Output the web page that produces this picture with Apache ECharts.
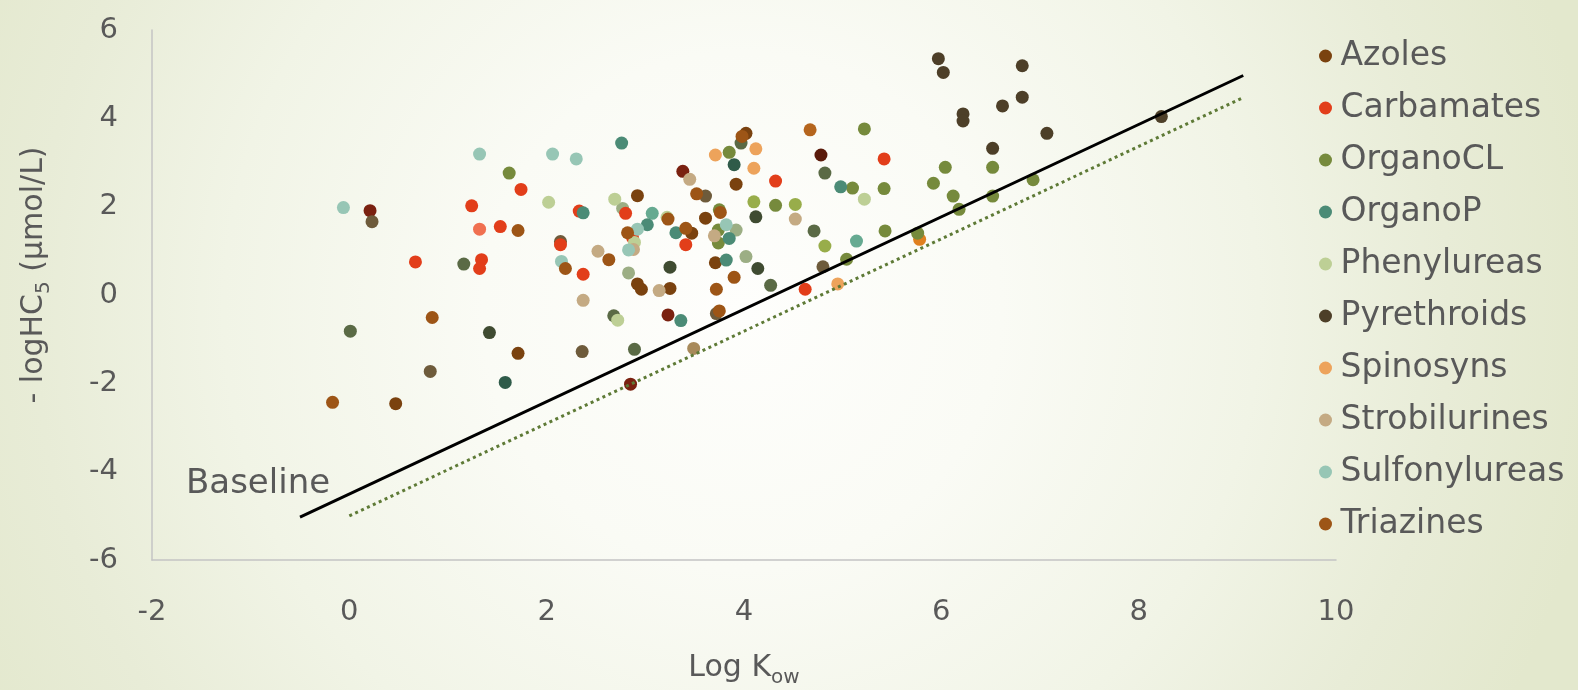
<!DOCTYPE html>
<html>
<head>
<meta charset="utf-8">
<script src="https://cdn.jsdelivr.net/npm/echarts@6/dist/echarts.min.js"></script>
<style>html,body{margin:0;padding:0;}#c{width:1578px;height:690px;}</style>
</head>
<body>
<div id="c"></div>
<script>
// ---- data (Log Kow, -logHC5) ----
const legendNames = ['Azoles','Carbamates','OrganoCL','OrganoP','Phenylureas','Pyrethroids','Spinosyns','Strobilurines','Sulfonylureas','Triazines'];
const xTicks = [-2,0,2,4,6,8,10];
const yTicks = [-6,-4,-2,0,2,4,6];

const azoles = [[0.47,-2.46],[1.71,-1.32],[2.92,2.25],[2.92,0.25],[2.96,0.13],[3.25,0.15],[3.47,1.40],[3.92,2.51],[3.71,0.73],[4.02,3.66],[3.61,1.74]];
const carbamates = [[0.67,0.75],[1.24,2.02],[1.53,1.55],[1.74,2.39],[1.34,0.80],[1.32,0.60],[2.14,1.14],[2.33,1.90],[2.37,0.47],[2.80,1.85],[2.87,1.30],[3.41,1.14],[4.32,2.58],[5.42,3.08],[4.62,0.13]];
const organoCL = [[1.62,2.76],[3.85,3.23],[3.75,1.93],[3.74,1.47],[3.74,1.18],[4.32,2.03],[5.22,3.76],[5.10,2.42],[5.42,2.41],[5.43,1.45],[5.04,0.81],[5.76,1.40],[5.92,2.53],[6.04,2.89],[6.12,2.24],[6.18,1.94],[6.52,2.89],[6.52,2.24],[6.93,2.61]];
const organoP = [[2.76,3.44],[2.37,1.86],[3.02,1.59],[3.31,1.41],[3.36,-0.58],[3.85,1.28],[3.82,0.79],[4.98,2.45]];
const phenylureas = [[2.02,2.10],[2.69,2.17],[2.89,1.19],[3.22,1.76],[2.72,-0.57],[5.22,2.17]];
const pyrethroids = [[5.97,5.35],[6.02,5.04],[6.82,5.19],[6.82,4.48],[6.62,4.28],[6.22,4.10],[6.22,3.94],[7.07,3.66],[6.52,3.32],[8.23,4.04]];
const spinosyns = [[3.71,3.17],[4.12,3.31],[4.10,2.87],[4.95,0.25]];
const strobilurines = [[2.37,-0.12],[2.52,0.99],[2.88,1.03],[3.14,0.10],[3.45,2.62],[3.70,1.34],[4.52,1.72]];
const sulfonylureas = [[-0.06,1.98],[1.32,3.19],[2.06,3.19],[2.30,3.08],[2.15,0.76],[2.92,1.49],[2.83,1.02],[3.82,1.59]];
const triazines = [[-0.17,-2.43],[0.84,-0.51],[1.71,1.46],[2.19,0.60],[2.63,0.80],[2.82,1.41],[3.41,1.51],[3.52,2.29],[3.76,1.87],[3.90,0.40],[3.72,0.13],[3.75,-0.36],[3.98,3.59],[3.23,1.72]];

// further shaded points present in the plot but not in the legend
const groupDarkRed = [[0.21,1.91],[2.85,-2.02],[3.23,-0.45],[3.38,2.80]];
const groupMaroon = [[4.78,3.17]];
const groupBrownGray = [[0.23,1.66],[0.82,-1.73],[2.36,-1.28],[2.14,1.21],[3.61,2.24],[3.72,-0.42],[4.80,0.64]];
const groupDarkOlive = [[0.01,-0.82],[1.16,0.70],[2.68,-0.47],[2.89,-1.23],[3.97,3.44],[4.82,2.76],[4.27,0.22],[4.71,1.45]];
const groupDarkGreen = [[1.42,-0.85],[3.25,0.63],[4.12,1.77],[4.14,0.60]];
const groupDarkTeal = [[1.58,-1.98],[3.90,2.95]];
const groupSage = [[2.83,0.50],[2.77,1.96],[3.92,1.47],[4.02,0.87]];
const groupTan = [[3.49,-1.21]];
const groupLightOlive = [[4.10,2.11],[4.52,2.05],[4.82,1.11]];
const groupLightTeal = [[3.07,1.85],[5.14,1.22]];
const groupLightRed = [[1.32,1.49]];
const groupOrange = [[5.78,1.26]];
const groupOrangeBrown = [[4.67,3.74]];

const baseline = [[-0.5,-5.03],[9.06,4.97]];
const dottedLine = [[0.0,-5.0],[9.06,4.47]];

// ---- styling ----
const FONT = 'DejaVu Sans';
const TXT = '#595959';
const legendColors = {
  'Azoles':'#7a420f','Carbamates':'#e23e1a','OrganoCL':'#768a3c','OrganoP':'#4b8b76',
  'Phenylureas':'#bdcf95','Pyrethroids':'#4d3f28','Spinosyns':'#eda35b','Strobilurines':'#c4aa83',
  'Sulfonylureas':'#97c6b5','Triazines':'#9d5516'
};
const legendData = [azoles,carbamates,organoCL,organoP,phenylureas,pyrethroids,spinosyns,strobilurines,sulfonylureas,triazines];
const extraGroups = [
  ['group-darkred', groupDarkRed, '#7a2110'],
  ['group-maroon', groupMaroon, '#5a1a0a'],
  ['group-browngray', groupBrownGray, '#6e5b3b'],
  ['group-darkolive', groupDarkOlive, '#5a6a45'],
  ['group-darkgreen', groupDarkGreen, '#3f4b31'],
  ['group-darkteal', groupDarkTeal, '#2f5b49'],
  ['group-sage', groupSage, '#9cae84'],
  ['group-tan', groupTan, '#a88a5a'],
  ['group-lightolive', groupLightOlive, '#98ad4a'],
  ['group-lightteal', groupLightTeal, '#66aa91'],
  ['group-lightred', groupLightRed, '#f07050'],
  ['group-orange', groupOrange, '#e08020'],
  ['group-orangebrown', groupOrangeBrown, '#b5651d']
];

const series = [];
extraGroups.forEach(g => series.push({
  name: g[0], type: 'scatter', data: g[1], symbolSize: 13,
  itemStyle: {color: g[2], opacity: 1}, z: 2
}));
legendNames.forEach((n, i) => series.push({
  name: n, type: 'scatter', data: legendData[i], symbolSize: 13,
  itemStyle: {color: legendColors[n], opacity: 1}, z: 3
}));
series.push({
  name: 'dotted', type: 'line', data: dottedLine, showSymbol: false, symbol: 'none',
  lineStyle: {color: '#5e7a36', width: 3, type: [3, 3.5]}, z: 5, silent: true
});
series.push({
  name: 'Baseline', type: 'line', data: baseline, showSymbol: false, symbol: 'none',
  lineStyle: {color: '#000000', width: 3}, z: 6, silent: true
});

const chart = echarts.init(document.getElementById('c'), null, {renderer: 'canvas'});
chart.setOption({
  animation: false,
  backgroundColor: {
    type: 'radial', x: 0.47, y: 0.45, r: 1.25,
    colorStops: [
      {offset: 0, color: '#fefefc'},
      {offset: 0.3, color: '#fafbf5'},
      {offset: 0.6, color: '#f1f4e6'},
      {offset: 0.82, color: '#e8ecd7'},
      {offset: 1, color: '#e3e8cd'}
    ]
  },
  textStyle: {fontFamily: FONT},
  grid: {left: 152, right: 242, top: 30, bottom: 130, containLabel: false, outerBoundsMode: 'none'},
  legend: {
    data: legendNames, orient: 'vertical', left: 1314, top: 33,
    icon: 'circle', itemWidth: 20, itemHeight: 13, itemGap: 16,
    textStyle: {fontFamily: FONT, fontSize: 33, color: TXT, lineHeight: 36},
    selectedMode: false
  },
  xAxis: {
    type: 'value', min: xTicks[0], max: xTicks[xTicks.length-1], interval: 2,
    name: 'Log {s|K}{sub|ow}', nameLocation: 'middle', nameGap: 88,
    nameTextStyle: {fontFamily: FONT, fontSize: 30, color: TXT,
      rich: {s: {fontFamily: FONT, fontSize: 30, color: TXT, lineHeight: 40},
             sub: {fontFamily: FONT, fontSize: 20, color: TXT, verticalAlign: 'bottom', lineHeight: 22}}},
    axisLine: {show: true, onZero: false, lineStyle: {color: '#c4c4c4', width: 1.5}},
    axisTick: {show: false}, splitLine: {show: false},
    axisLabel: {fontFamily: FONT, fontSize: 29, color: TXT, margin: 38}
  },
  yAxis: {
    type: 'value', min: yTicks[0], max: yTicks[yTicks.length-1], interval: 2,
    name: '- logHC{sub|5} (µmol/L)', nameLocation: 'middle', nameGap: 98,
    nameTextStyle: {fontFamily: FONT, fontSize: 30, color: TXT, lineHeight: 40, padding: [0, 0, 0, 40],
      rich: {sub: {fontFamily: FONT, fontSize: 20, color: TXT, verticalAlign: 'bottom', lineHeight: 22}}},
    axisLine: {show: true, onZero: false, lineStyle: {color: '#c4c4c4', width: 1.5}},
    axisTick: {show: false}, splitLine: {show: false},
    axisLabel: {fontFamily: FONT, fontSize: 29, color: TXT, margin: 34}
  },
  graphic: [{
    type: 'text', left: 186, top: 467, silent: true,
    style: {text: 'Baseline', fontFamily: FONT, fontSize: 34, fill: TXT}
  }],
  series: series
});
</script>
</body>
</html>
